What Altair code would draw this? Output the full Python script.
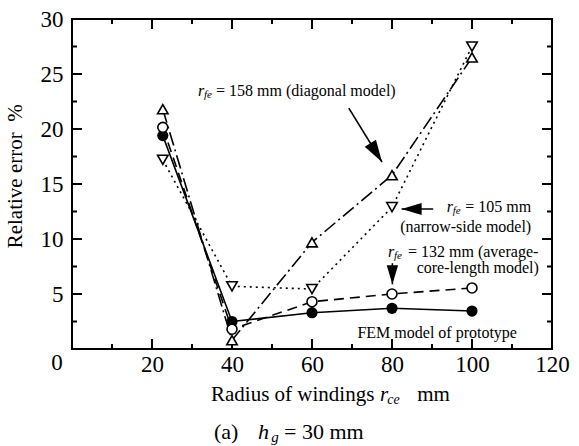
import altair as alt
import pandas as pd

# ---------------- data ----------------
r_ce = [22.7, 40, 60, 80, 100]
err_fem = [19.4, 2.5, 3.3, 3.7, 3.45]        # FEM model of prototype (filled circle, solid)
err_132 = [20.15, 1.8, 4.3, 5.0, 5.55]       # r_fe = 132 mm (open circle, dashed)
err_158 = [21.8, 0.8, 9.7, 15.8, 26.5]       # r_fe = 158 mm (triangle up, dash-dot)
err_105 = [17.2, 5.7, 5.45, 12.9, 27.5]      # r_fe = 105 mm (triangle down, dotted)

x_labels = [20, 40, 60, 80, 100, 120]
y_labels = [5, 10, 15, 20, 25, 30]
x_major = [20, 40, 60, 80, 100]
x_minor = [10, 30, 50, 70, 90, 110]
y_major = [5, 10, 15, 20, 25]
y_minor = [2.5, 7.5, 12.5, 17.5, 22.5, 27.5]
X_MIN, X_MAX, Y_MIN, Y_MAX = 0, 120, 0, 30

W, H = 480, 330
FONT = "Liberation Serif"
PX_X = (X_MAX - X_MIN) / W      # data units per pixel (x)
PX_Y = (Y_MAX - Y_MIN) / H      # data units per pixel (y)

xs = alt.Scale(domain=[X_MIN, X_MAX], nice=False, zero=False)
ys = alt.Scale(domain=[Y_MIN, Y_MAX], nice=False, zero=False)
xaxis = alt.Axis(values=x_labels, ticks=False, domain=False, grid=False, labelFlush=False,
                 labelFont=FONT, labelFontSize=23, labelColor="black",
                 labelPadding=4, title=None, format="d")
yaxis = alt.Axis(values=y_labels, ticks=False, domain=False, grid=False,
                 labelFont=FONT, labelFontSize=23, labelColor="black",
                 labelPadding=9, title=None, format="d")
X = alt.X("x:Q", scale=xs, axis=xaxis)
Y = alt.Y("y:Q", scale=ys, axis=yaxis)


def sdf(vals):
    return pd.DataFrame({"x": r_ce, "y": vals})


layers = []

# frame and inward ticks as thin filled rectangles in data space
bars = []
t = 2  # line thickness in px
# frame edges
bars.append((X_MIN - PX_X, X_MAX + PX_X, Y_MIN - PX_Y, Y_MIN + PX_Y))
bars.append((X_MIN - PX_X, X_MAX + PX_X, Y_MAX - PX_Y, Y_MAX + PX_Y))
bars.append((X_MIN - PX_X, X_MIN + PX_X, Y_MIN - PX_Y, Y_MAX + PX_Y))
bars.append((X_MAX - PX_X, X_MAX + PX_X, Y_MIN - PX_Y, Y_MAX + PX_Y))
for vals, lpx in ((x_major, 10), (x_minor, 5)):
    for v in vals:
        bars.append((v - PX_X, v + PX_X, Y_MAX - lpx * PX_Y, Y_MAX))
        bars.append((v - PX_X, v + PX_X, Y_MIN, Y_MIN + lpx * PX_Y))
for vals, lpx in ((y_major, 10), (y_minor, 5)):
    for v in vals:
        bars.append((X_MIN, X_MIN + lpx * PX_X, v - PX_Y, v + PX_Y))
        bars.append((X_MAX - lpx * PX_X, X_MAX, v - PX_Y, v + PX_Y))
bars_df = pd.DataFrame(bars, columns=["x", "x2", "y", "y2"])
layers.append(alt.Chart(bars_df).mark_rect(color="black", opacity=1).encode(
    x=X, x2="x2:Q", y=Y, y2="y2:Q"))

# lines
LW = 1.6
layers.append(alt.Chart(sdf(err_fem)).mark_line(color="black", strokeWidth=LW).encode(x=X, y=Y))
layers.append(alt.Chart(sdf(err_132)).mark_line(color="black", strokeWidth=LW, strokeDash=[10, 6]).encode(x=X, y=Y))
layers.append(alt.Chart(sdf(err_158)).mark_line(color="black", strokeWidth=LW, strokeDash=[14, 4, 2, 4]).encode(x=X, y=Y))
layers.append(alt.Chart(sdf(err_105)).mark_line(color="black", strokeWidth=LW, strokeDash=[2, 4]).encode(x=X, y=Y))

# markers
layers.append(alt.Chart(sdf(err_158)).mark_point(shape="triangle-up", filled=True, fill="white", stroke="black",
                                                 strokeWidth=1.6, size=110, opacity=1).encode(x=X, y=Y))
layers.append(alt.Chart(sdf(err_105)).mark_point(shape="triangle-down", filled=True, fill="white", stroke="black",
                                                 strokeWidth=1.6, size=110, opacity=1).encode(x=X, y=Y))
layers.append(alt.Chart(sdf(err_fem)).mark_point(shape="circle", filled=True, color="black",
                                                 size=125, opacity=1).encode(x=X, y=Y))
layers.append(alt.Chart(sdf(err_132)).mark_point(shape="circle", filled=True, fill="white", stroke="black",
                                                 strokeWidth=1.6, size=100, opacity=1).encode(x=X, y=Y))

# arrows (annotation positions in data units)
arrow_tail_x = [69.2, 90.3, 80.1]
arrow_tail_y = [21.9, 12.73, 7.8]
arrow_tip_x = [77.5, 82.4, 80.1]
arrow_tip_y = [17.0, 12.73, 5.88]
arrow_angle = [328, 90, 0]
arrow_len = [22, 20, 19]

shafts = pd.DataFrame({"x": arrow_tail_x, "y": arrow_tail_y, "x2": arrow_tip_x, "y2": arrow_tip_y})
layers.append(alt.Chart(shafts).mark_rule(color="black", strokeWidth=1.6).encode(
    x=X, y=Y, x2="x2:Q", y2="y2:Q"))
HEAD = "M0,0L-0.6,-2L0.6,-2Z"
for i in range(3):
    d = pd.DataFrame({"x": [arrow_tip_x[i]], "y": [arrow_tip_y[i]]})
    layers.append(alt.Chart(d).mark_point(shape=HEAD, filled=True, color="black", opacity=1,
                                          size=arrow_len[i] ** 2, angle=arrow_angle[i]).encode(x=X, y=Y))


# text pieces
def txt(x, y, s, size=16, style="normal", align="left", dy=0, angle=0):
    d = pd.DataFrame({"x": [x], "y": [y], "t": [s]})
    kw = dict(font=FONT, fontSize=size, fontStyle=style, align=align, baseline="middle",
              color="black", dy=dy)
    if angle:
        kw["angle"] = angle
    return alt.Chart(d).mark_text(**kw).encode(x=X, y=Y, text="t:N")


# r_fe = 158 mm (diagonal model)
layers += [txt(31.5, 23.45, "r", style="italic"),
           txt(33.0, 23.45, "fe", size=11, style="italic", dy=4),
           txt(36.0, 23.45, "= 158 mm (diagonal model)")]
# r_fe = 105 mm (narrow-side model)
layers += [txt(93.7, 12.9, "r", style="italic"),
           txt(95.2, 12.9, "fe", size=11, style="italic", dy=4),
           txt(98.3, 12.9, "= 105 mm"),
           txt(114.8, 11.1, "(narrow-side model)", align="right")]
# r_fe = 132 mm (average-core-length model)
layers += [txt(79.0, 8.85, "r", style="italic"),
           txt(80.5, 8.85, "fe", size=11, style="italic", dy=4),
           txt(84.0, 8.85, "= 132 mm (average-"),
           txt(116.7, 7.36, "core-length model)", align="right")]
# FEM label
layers += [txt(91.3, 1.45, "FEM model of prototype", align="center")]

# corner "0" label (sits left of the origin in the reference)
layers += [txt(-3.75, -1.3, "0", size=23, align="center")]

# x title
layers += [txt(34.75, -4.18, "Radius of windings", size=21),
           txt(77.0, -4.18, "r", size=21, style="italic"),
           txt(78.8, -4.18, "ce", size=14, style="italic", dy=5),
           txt(86.3, -4.18, "mm", size=21)]
# caption
layers += [txt(35.5, -7.55, "(a)", size=22),
           txt(46.5, -7.55, "h", size=22, style="italic"),
           txt(49.8, -7.55, "g", size=15, style="italic", dy=5),
           txt(53.0, -7.55, "= 30 mm", size=22)]
# y title
layers += [txt(-14.0, 15.7, "Relative error \u00a0%", size=21, align="center", angle=270)]

chart = alt.layer(*layers).properties(
    width=W, height=H,
    padding={"left": 72, "top": 19, "right": 27, "bottom": 97},
    autosize=alt.AutoSizeParams(type="none"),
    background="white",
).configure_view(stroke="black", strokeWidth=2).configure_axis(
    labelFont=FONT, labelFontSize=23, labelColor="black")

chart.save("out.html", embed_options={"renderer": "svg", "actions": False})
